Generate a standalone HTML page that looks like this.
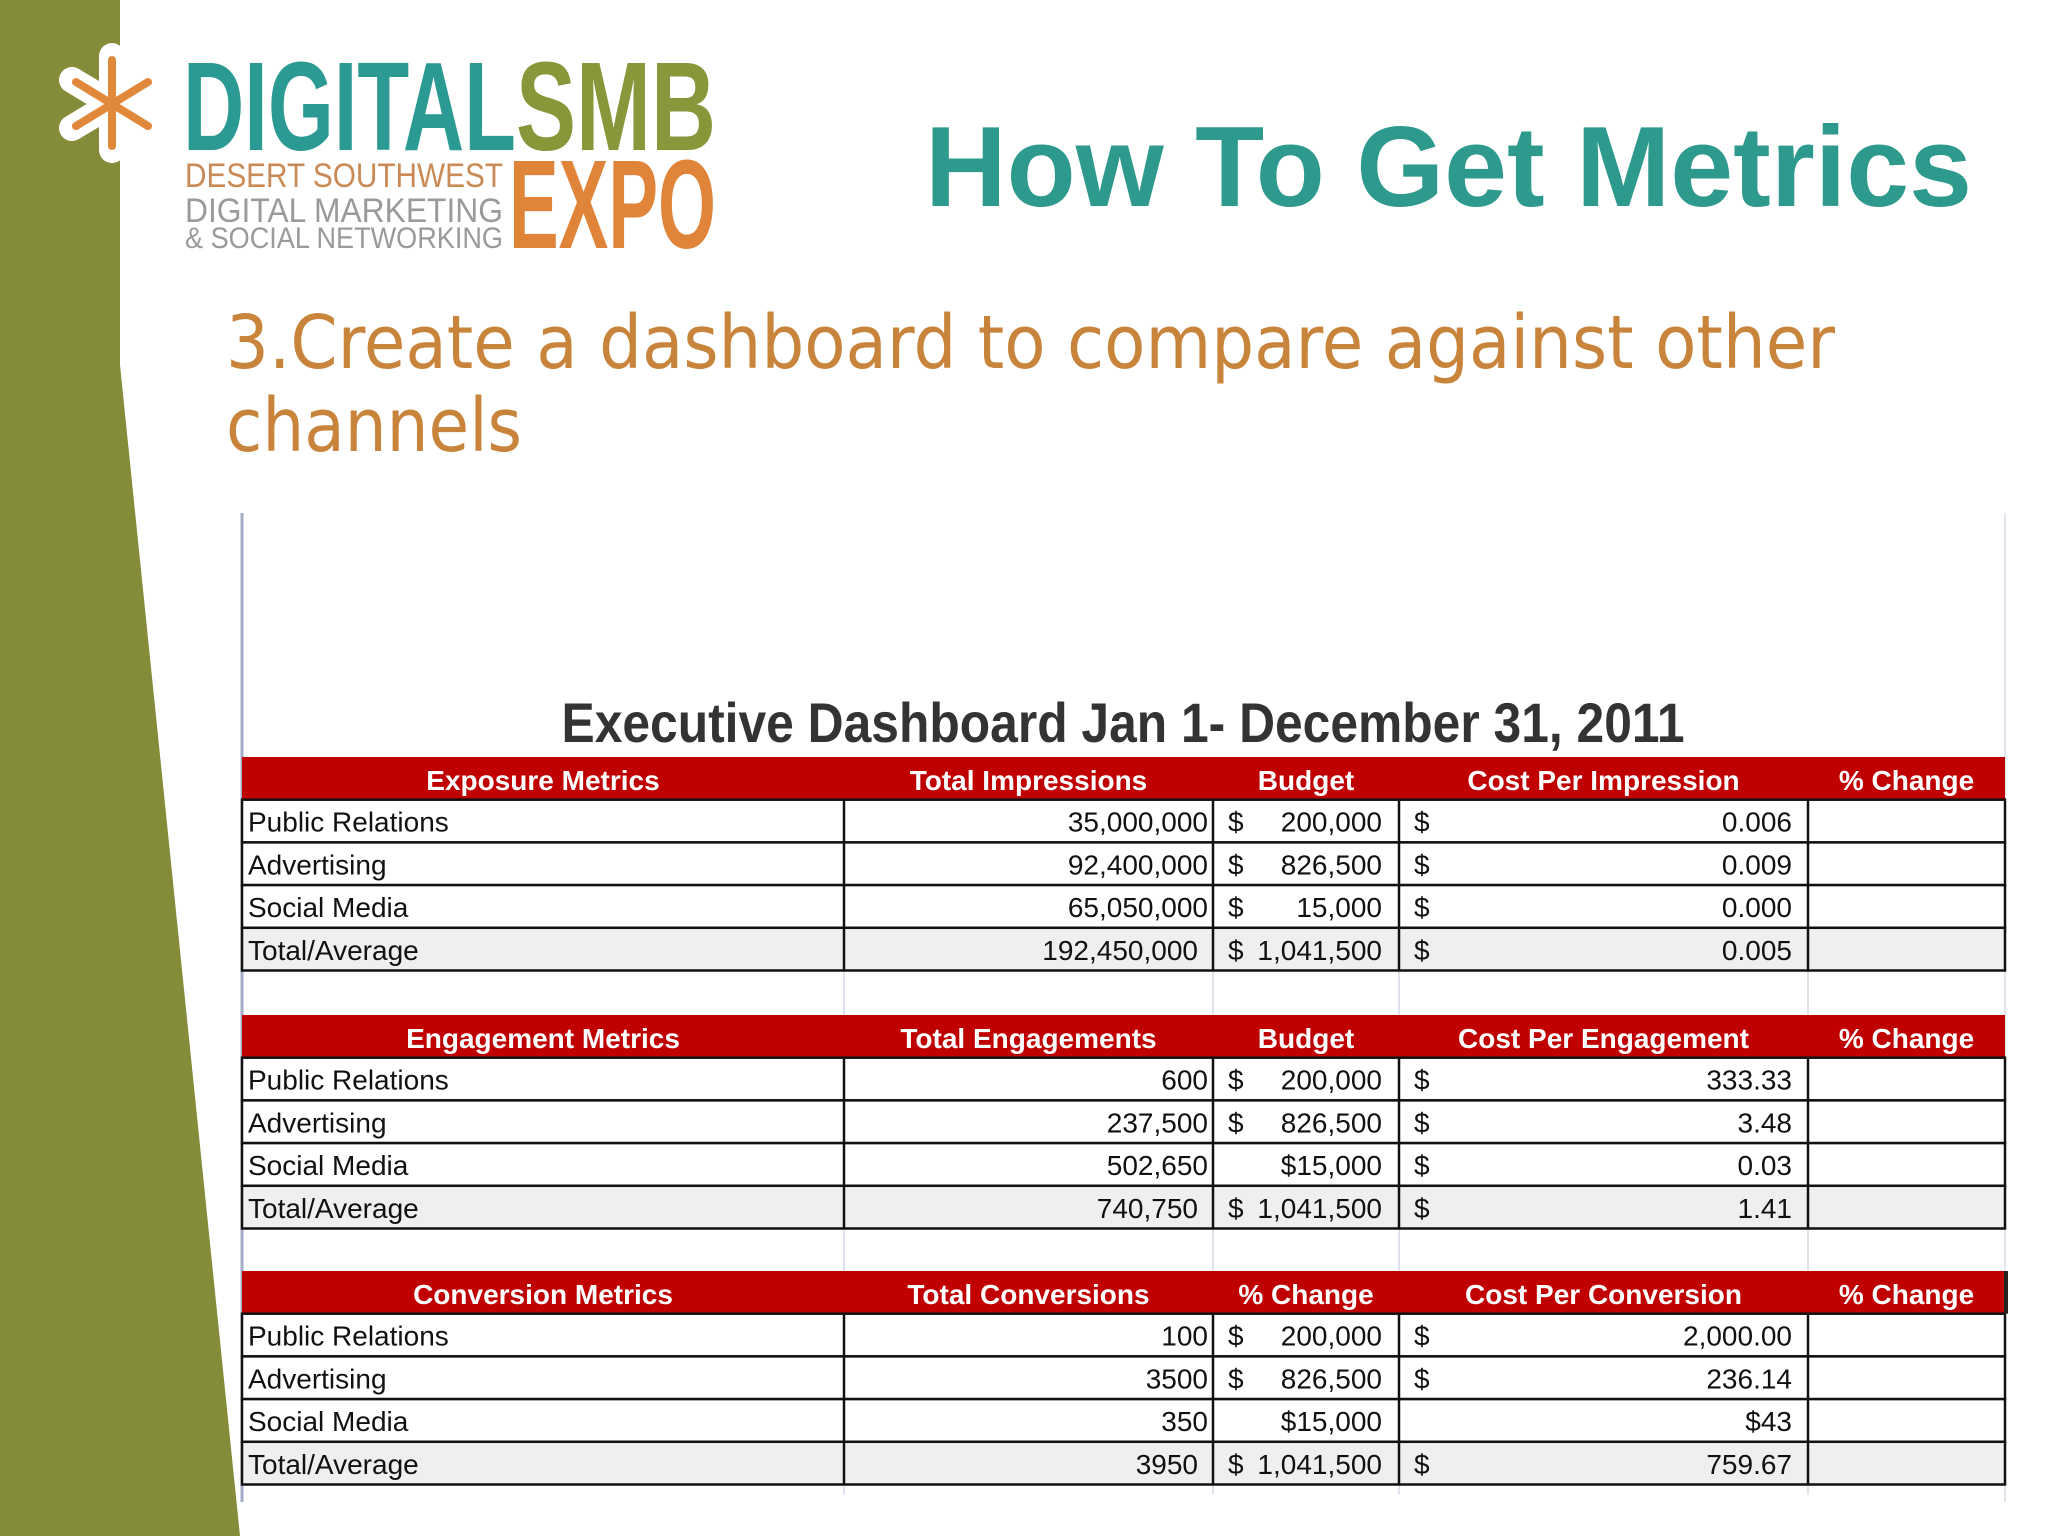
<!DOCTYPE html>
<html><head><meta charset="utf-8">
<style>
html,body{margin:0;padding:0;background:#fff;}
svg{display:block;}
</style></head>
<body>
<svg id="s" width="2048" height="1536" viewBox="0 0 2048 1536" xmlns="http://www.w3.org/2000/svg">
  <rect x="0" y="0" width="2048" height="1536" fill="#ffffff"/>
  <polygon points="0,0 120,0 120,365 240,1536 0,1536" fill="#848b39"/>
  <g>
    <g stroke="#ffffff" stroke-width="26" stroke-linecap="round">
      <line x1="112" y1="56" x2="112" y2="150"/><line x1="72" y1="80" x2="152" y2="128"/><line x1="72" y1="128" x2="152" y2="80"/>
    </g>
    <g stroke="#e0893a" stroke-width="8" stroke-linecap="round">
      <line x1="112" y1="60" x2="112" y2="146"/><line x1="76" y1="82" x2="148" y2="126"/><line x1="76" y1="126" x2="148" y2="82"/>
    </g>
    <text x="183" y="150" font-family="Liberation Sans Narrow, Liberation Sans, sans-serif" font-weight="bold" font-size="126" fill="#2b9a92" textLength="333" lengthAdjust="spacingAndGlyphs">DIGITAL</text>
    <text x="516" y="150" font-family="Liberation Sans Narrow, Liberation Sans, sans-serif" font-weight="bold" font-size="126" fill="#8a963a" textLength="200" lengthAdjust="spacingAndGlyphs">SMB</text>
    <text x="509" y="248" font-family="Liberation Sans Narrow, Liberation Sans, sans-serif" font-weight="bold" font-size="126" fill="#e0843a" textLength="207" lengthAdjust="spacingAndGlyphs">EXPO</text>
    <text x="185" y="187" font-family="Liberation Sans, sans-serif" font-size="34" fill="#c98a55" textLength="318" lengthAdjust="spacingAndGlyphs">DESERT SOUTHWEST</text>
    <text x="185" y="222" font-family="Liberation Sans, sans-serif" font-size="34" fill="#9a9a9a" textLength="318" lengthAdjust="spacingAndGlyphs">DIGITAL MARKETING</text>
    <text x="185" y="248" font-family="Liberation Sans, sans-serif" font-size="30" fill="#9a9a9a" textLength="318" lengthAdjust="spacingAndGlyphs">&amp; SOCIAL NETWORKING</text>
  </g>
  <text x="925" y="206" font-family="Liberation Sans, sans-serif" font-weight="bold" font-size="114" fill="#2e9a8e" textLength="1047" lengthAdjust="spacingAndGlyphs">How To Get Metrics</text>
  <text x="226" y="368" font-family="DejaVu Sans, Liberation Sans, sans-serif" font-size="74" fill="#c8843a" textLength="1609" lengthAdjust="spacingAndGlyphs">3.Create a dashboard to compare against other</text>
  <text x="226" y="451" font-family="DejaVu Sans, Liberation Sans, sans-serif" font-size="74" fill="#c8843a" textLength="296" lengthAdjust="spacingAndGlyphs">channels</text>
  <line x1="242" y1="513" x2="242" y2="1502" stroke="#a3abc8" stroke-width="3"/>
  <line x1="2005" y1="513" x2="2005" y2="1502" stroke="#e2e4ee" stroke-width="2"/>
  <text x="1123" y="742" text-anchor="middle" font-family="Liberation Sans Narrow, Liberation Sans, sans-serif" font-weight="bold" font-size="56" fill="#333333" textLength="1123" lengthAdjust="spacingAndGlyphs">Executive Dashboard Jan 1- December 31, 2011</text>
  <g id="tbl"></g>
</svg>
<script>
const headers1 = ["Exposure Metrics","Total Impressions","Budget","Cost Per Impression","% Change"];
const headers2 = ["Engagement Metrics","Total Engagements","Budget","Cost Per Engagement","% Change"];
const headers3 = ["Conversion Metrics","Total Conversions","% Change","Cost Per Conversion","% Change"];
const rowLabels = ["Public Relations","Advertising","Social Media","Total/Average"];
const col2Values1 = ["35,000,000","92,400,000","65,050,000","192,450,000"];
const col3Values1 = ["$|200,000","$|826,500","$|15,000","$|1,041,500"];
const col4Values1 = ["$|0.006","$|0.009","$|0.000","$|0.005"];
const col2Values2 = ["600","237,500","502,650","740,750"];
const col3Values2 = ["$|200,000","$|826,500","|$15,000","$|1,041,500"];
const col4Values2 = ["$|333.33","$|3.48","$|0.03","$|1.41"];
const col2Values3 = ["100","3500","350","3950"];
const col3Values3 = ["$|200,000","$|826,500","|$15,000","$|1,041,500"];
const col4Values3 = ["$|2,000.00","$|236.14","|$43","$|759.67"];

const NS="http://www.w3.org/2000/svg";
const g=document.getElementById('tbl');
const cols=[242,844,1213,1399,1808,2005];
const rowH=42.7;
const blockTops=[757,1015,1271];
const FONT='Liberation Sans Narrow, Liberation Sans, sans-serif';
function mk(tag,attrs){const e=document.createElementNS(NS,tag);for(const k in attrs)e.setAttribute(k,attrs[k]);g.appendChild(e);return e;}
function txt(x,y,s,anchor,fill,bold,name){
  const t=mk('text',{x:x,y:y,'text-anchor':anchor,fill:fill,'font-family':FONT,'font-size':28,'font-weight':bold?'bold':'normal'});
  t.textContent=s;
  
  
  return t;
}
const blocks=[[headers1,col2Values1,col3Values1,col4Values1,'exposure'],[headers2,col2Values2,col3Values2,col4Values2,'engagement'],[headers3,col2Values3,col3Values3,col4Values3,'conversion']];
blocks.forEach((b,bi)=>{
  const top=blockTops[bi];const bottom=top+rowH*5;
  const nextTop = bi<2?blockTops[bi+1]:bottom+10;
  for(let c=1;c<5;c++){
    const l=mk('line',{x1:cols[c],y1:bottom,x2:cols[c],y2:nextTop,stroke:'#dfe1ec','stroke-width':2});
    
    
  }
});
blocks.forEach((b,bi)=>{
  const [hdr,c2,c3,c4,key]=b;
  const top=blockTops[bi];
  const hr=mk('rect',{x:cols[0],y:top,width:cols[5]-cols[0],height:rowH,fill:'#c00000'});
  
  
  hdr.forEach((h,i)=>{
    const cx=(cols[i]+cols[i+1])/2;
    txt(cx,top+33,h,'middle','#ffffff',true,key+'-header-'+i);
  });
  for(let r=0;r<4;r++){
    const y=top+rowH*(r+1);
    const rr=mk('rect',{x:cols[0],y:y,width:cols[5]-cols[0],height:rowH,fill:r===3?'#efefef':'#ffffff',stroke:'#111111','stroke-width':2.5});
    
    
    for(let c=1;c<5;c++){
      const l=mk('line',{x1:cols[c],y1:y,x2:cols[c],y2:y+rowH,stroke:'#111111','stroke-width':2.5});
      
      
    }
    const by=y+32;
    txt(248,by,rowLabels[r],'start','#111111',false,key+'-label-'+r);
    txt(r===3?1198:1208,by,c2[r],'end','#111111',false,key+'-col2-'+r);
    const p3=c3[r].split('|');
    if(p3[0]) txt(1228,by,p3[0],'start','#111111',false,key+'-col3-currency-'+r);
    txt(1382,by,p3[1],'end','#111111',false,key+'-col3-'+r);
    const p4=c4[r].split('|');
    if(p4[0]) txt(1414,by,p4[0],'start','#111111',false,key+'-col4-currency-'+r);
    txt(1792,by,p4[1],'end','#111111',false,key+'-col4-'+r);
  }
});
const cur=mk('rect',{x:2004,y:1271,width:4,height:rowH,fill:'#222222'});


</script>
</body></html>
